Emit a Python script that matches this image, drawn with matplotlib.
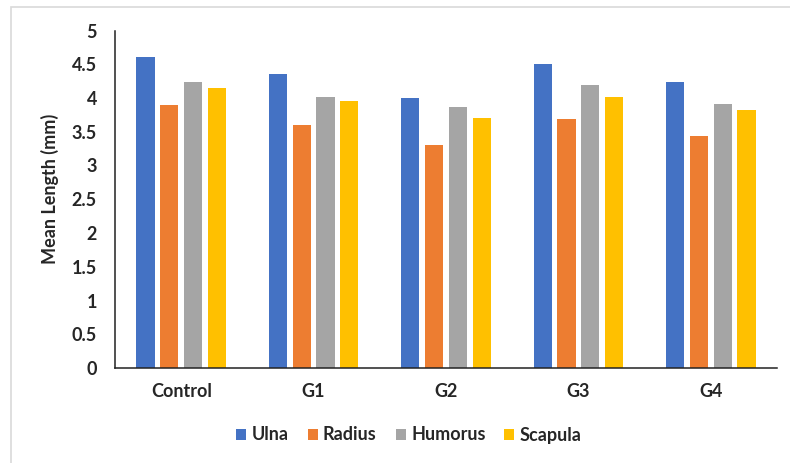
import matplotlib
matplotlib.use("Agg")
import matplotlib.pyplot as plt
import numpy as np
from matplotlib.patches import Rectangle

groups = ["Control", "G1", "G2", "G3", "G4"]
series = ["Ulna", "Radius", "Humorus", "Scapula"]
ulna = [4.61, 4.35, 4.00, 4.51, 4.24]
radius = [3.90, 3.60, 3.30, 3.69, 3.44]
humorus = [4.24, 4.02, 3.87, 4.20, 3.91]
scapula = [4.15, 3.96, 3.71, 4.02, 3.82]
yticks = [0, 0.5, 1, 1.5, 2, 2.5, 3, 3.5, 4, 4.5, 5]
ytick_labels = ["0", "0.5", "1", "1.5", "2", "2.5", "3", "3.5", "4", "4.5", "5"]

colors = ["#4472C4", "#ED7D31", "#A5A5A5", "#FFC000"]
text_color = "#262626"
font = ["Lato", "DejaVu Sans"]
fs = 13

fig = plt.figure(figsize=(7.90, 4.63), dpi=100)
fig.patches.append(Rectangle((11 / 790, -0.05), 1.0, 1 - 7 / 463 + 0.05,
                             transform=fig.transFigure, fill=False,
                             edgecolor="#d9d9d9", linewidth=1.2))

ax = fig.add_axes([115 / 790, 1 - 368 / 463, (777 - 115) / 790, (368 - 30.5) / 463])

x = np.arange(len(groups))
slot = 0.18
width = 0.138
for i, (name, vals) in enumerate(zip(series, [ulna, radius, humorus, scapula])):
    ax.bar(x + (i - 1.5) * slot, vals, width, color=colors[i], label=name)

ax.set_xlim(-0.5, len(groups) - 0.5)
ax.set_ylim(0, 5)
ax.set_yticks(yticks)
ax.set_yticklabels(ytick_labels)
ax.set_xticks(x)
ax.set_xticklabels(groups)
for lab in ax.get_xticklabels() + ax.get_yticklabels():
    lab.set_fontfamily(font)
    lab.set_fontweight("bold")
    lab.set_fontsize(fs)
    lab.set_color(text_color)
ax.tick_params(axis="both", length=0)
ax.tick_params(axis="y", pad=13)
ax.tick_params(axis="x", pad=11)

for side in ["top", "right"]:
    ax.spines[side].set_visible(False)
for side in ["left", "bottom"]:
    ax.spines[side].set_color("#222222")
    ax.spines[side].set_linewidth(1.1)

fig.text(50 / 790, 1 - 189 / 463, "Mean Length (mm)", rotation=90,
         ha="center", va="center", fontsize=fs, fontweight="bold",
         family=font, color=text_color)

leg = fig.legend(loc="center", bbox_to_anchor=(409 / 790, 1 - 435 / 463),
                 ncol=4, frameon=False, handlelength=0.55, handleheight=0.55,
                 handletextpad=0.3, columnspacing=1.05,
                 prop={"family": font, "weight": "bold", "size": fs})
for t in leg.get_texts():
    t.set_color(text_color)

fig.savefig("out.png", dpi=100)
